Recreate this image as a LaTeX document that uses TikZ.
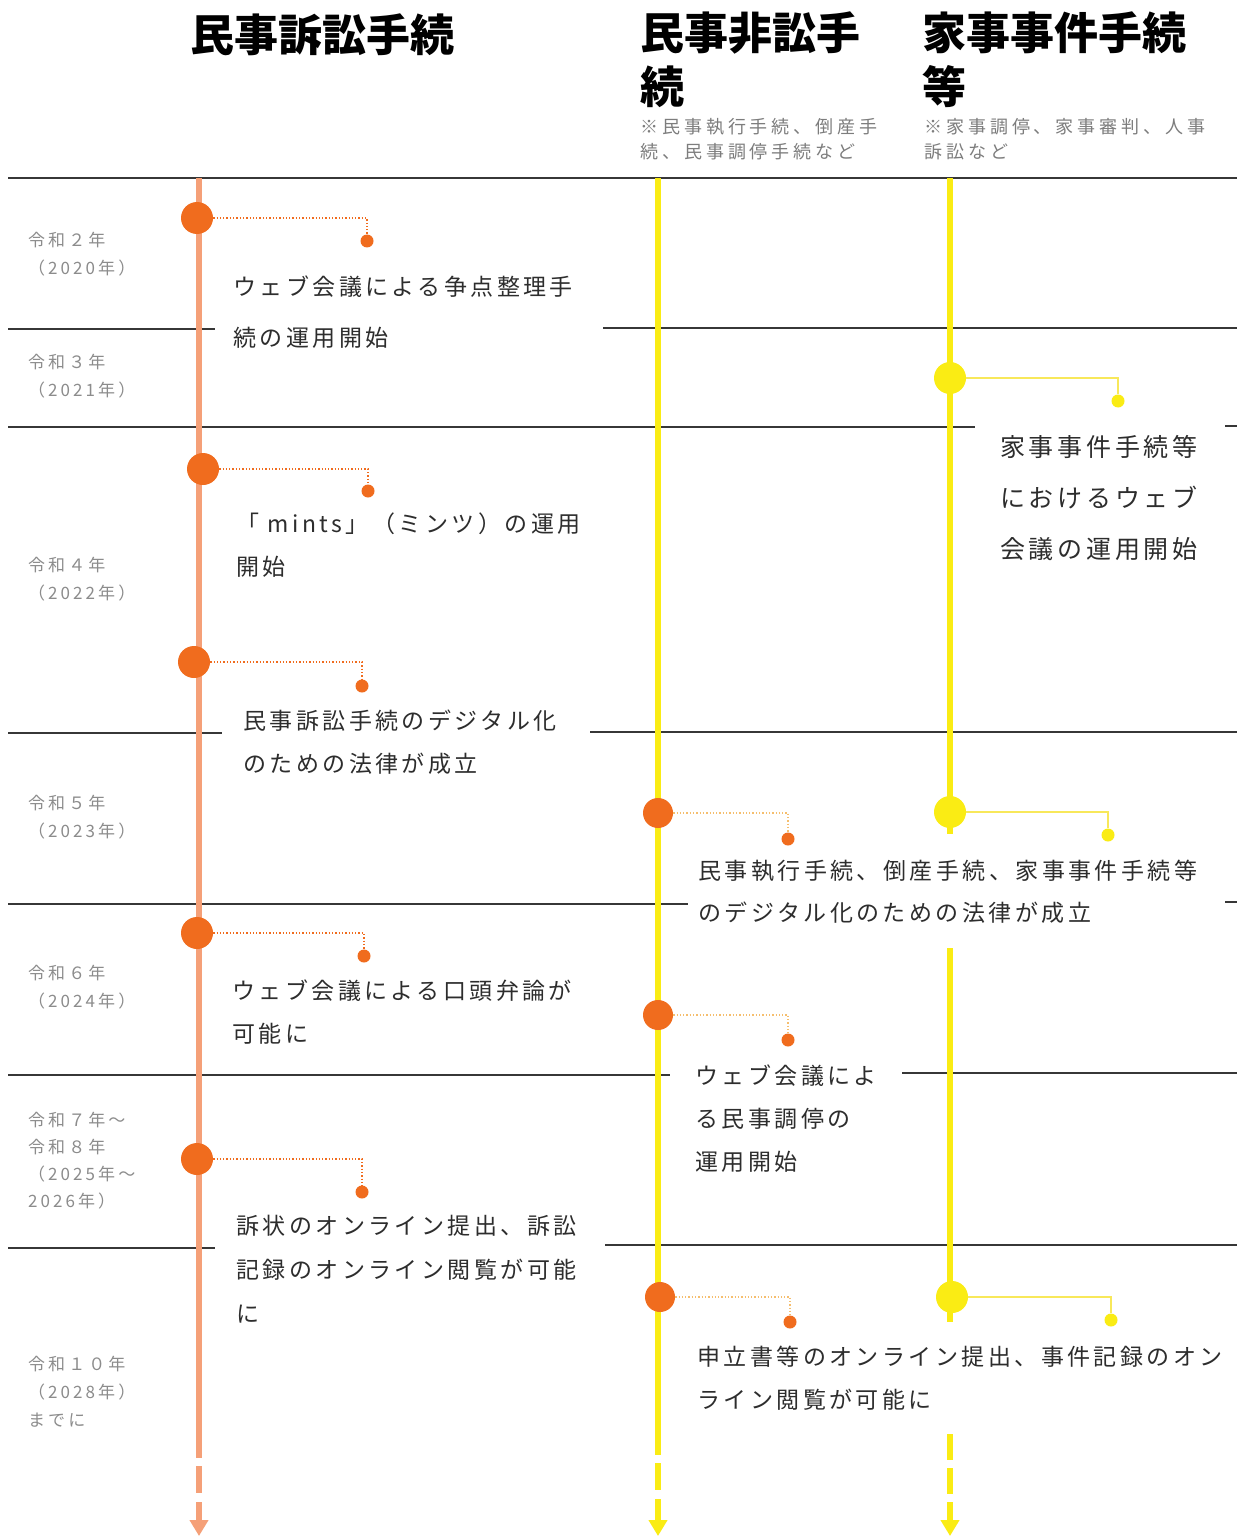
\documentclass[tikz,border=0pt]{standalone}
\usepackage{fontspec}
\usetikzlibrary{arrows.meta}
\newfontfamily\jp{Noto Sans CJK JP}
\newfontfamily\jpdesc{Noto Sans CJK JP}[LetterSpace=15]
\newfontfamily\jpyear{Noto Sans CJK JP}[LetterSpace=18]
\newfontfamily\jpnote{Noto Sans CJK JP}[LetterSpace=22]
\definecolor{orline}{RGB}{245,160,120}
\definecolor{ordot}{RGB}{240,108,30}
\definecolor{ylline}{RGB}{250,236,20}
\definecolor{ylconn}{RGB}{248,232,90}
\definecolor{midconn}{RGB}{245,190,110}
\definecolor{rulec}{RGB}{55,55,55}
\definecolor{txt}{RGB}{45,45,45}
\definecolor{yeartxt}{RGB}{140,140,140}
\definecolor{notetxt}{RGB}{125,125,125}
\tikzset{
  rulel/.style={draw=rulec, line width=1.5pt},
  oline/.style={draw=orline, line width=6pt},
  yline/.style={draw=ylline, line width=6pt},
  bigdot/.style={circle, inner sep=0, minimum size=32pt},
  smalldot/.style={circle, inner sep=0, minimum size=13pt},
  oconn/.style={draw=ordot, line width=1.3pt, dotted},
  mconn/.style={draw=midconn, line width=1.3pt, dotted},
  yconn/.style={draw=ylconn, line width=1.5pt},
  desc/.style={anchor=base west, inner sep=0, align=left, text=txt},
  yearlbl/.style={anchor=base west, inner sep=0, align=left, text=yeartxt, font={\fontsize{17}{28}\selectfont\jpyear}},
  head/.style={anchor=base west, inner sep=0, align=left, text=black, font={\fontsize{44}{54}\selectfont\jp\bfseries}},
  note/.style={anchor=base west, inner sep=0, align=left, text=notetxt, font={\fontsize{18}{25}\selectfont\jpnote}},
  tipd/.style={-{Triangle[width=18pt,length=16pt]}}
}
\begin{document}
\begin{tikzpicture}[x=1pt,y=-1pt]
\useasboundingbox (0,0) rectangle (1237,1538);
\fill[white] (0,0) rectangle (1237,1538);

% horizontal rules
\draw[rulel] (8,178) -- (1237,178);
\draw[rulel] (8,329) -- (215,329);
\draw[rulel] (603,328) -- (1237,328);
\draw[rulel] (8,427) -- (975,427);
\draw[rulel] (1225,426) -- (1237,426);
\draw[rulel] (8,733) -- (222,733);
\draw[rulel] (590,732) -- (1237,732);
\draw[rulel] (8,904) -- (688,904);
\draw[rulel] (1225,902) -- (1237,902);
\draw[rulel] (8,1075) -- (670,1075);
\draw[rulel] (902,1073) -- (1237,1073);
\draw[rulel] (8,1248) -- (215,1248);
\draw[rulel] (605,1245) -- (1237,1245);

% vertical timelines
\coordinate (otop) at (199,178);
\coordinate (obot) at (199,1458);
\coordinate (odash) at (199,1466);
\coordinate (oend) at (199,1536);
\coordinate (mtop) at (658,178);
\coordinate (mbot) at (658,1455);
\coordinate (mdash) at (658,1463);
\coordinate (mend) at (658,1536);
\coordinate (rtop) at (950,178);
\coordinate (rb1) at (950,834);
\coordinate (rt2) at (950,948);
\coordinate (rb2) at (950,1322);
\coordinate (rdash) at (950,1434);
\coordinate (rend) at (950,1536);

\draw[oline] (otop) -- (obot);
\draw[oline, tipd, dash pattern=on 27pt off 9pt] (odash) -- (oend);
\draw[yline] (mtop) -- (mbot);
\draw[yline, tipd, dash pattern=on 27pt off 9pt] (mdash) -- (mend);
\draw[yline] (rtop) -- (rb1);
\draw[yline] (rt2) -- (rb2);
\draw[yline, tipd, dash pattern=on 26pt off 8pt] (rdash) -- (rend);

% headers (base anchor = baseline of last line)
\node[head] (h1) at (190,52) {民事訴訟手続};
\node[head] (h2) at (640,104) {民事非訟手\\続};
\node[head] (h3) at (922,104) {家事事件手続\\等};
\node[note] (n2) at (640,159) {※民事執行手続、倒産手\\続、民事調停手続など};
\node[note] (n3) at (924,159) {※家事調停、家事審判、人事\\訴訟など};

% year labels
\node[yearlbl] (y1) at (28,274) {令和２年\\（2020年）};
\node[yearlbl] (y2) at (28,396) {令和３年\\（2021年）};
\node[yearlbl] (y3) at (28,599) {令和４年\\（2022年）};
\node[yearlbl] (y4) at (28,837) {令和５年\\（2023年）};
\node[yearlbl] (y5) at (28,1007) {令和６年\\（2024年）};
\node[yearlbl, font={\fontsize{17}{27}\selectfont\jpyear}] (y6) at (28,1207) {令和７年～\\令和８年\\（2025年～\\2026年）};
\node[yearlbl] (y7) at (28,1426) {令和１０年\\（2028年）\\までに};

% dots: left column
\node[bigdot, fill=ordot] (b1) at (197,218) {};
\node[smalldot, fill=ordot] (s1) at (367,241) {};
\node[bigdot, fill=ordot] (b2) at (203,469) {};
\node[smalldot, fill=ordot] (s2) at (368,491) {};
\node[bigdot, fill=ordot] (b3) at (194,662) {};
\node[smalldot, fill=ordot] (s3) at (362,686) {};
\node[bigdot, fill=ordot] (b4) at (197,933) {};
\node[smalldot, fill=ordot] (s4) at (364,956) {};
\node[bigdot, fill=ordot] (b5) at (197,1159) {};
\node[smalldot, fill=ordot] (s5) at (362,1192) {};
% middle column
\node[bigdot, fill=ordot, minimum size=30pt] (b6) at (658,813) {};
\node[smalldot, fill=ordot] (s6) at (788,839) {};
\node[bigdot, fill=ordot, minimum size=30pt] (b7) at (658,1015) {};
\node[smalldot, fill=ordot] (s7) at (788,1040) {};
\node[bigdot, fill=ordot, minimum size=30pt] (b8) at (660,1297) {};
\node[smalldot, fill=ordot] (s8) at (790,1322) {};
% right column
\node[bigdot, fill=ylline] (b9) at (950,378) {};
\node[smalldot, fill=ylline] (s9) at (1118,401) {};
\node[bigdot, fill=ylline] (b10) at (950,812) {};
\node[smalldot, fill=ylline] (s10) at (1108,835) {};
\node[bigdot, fill=ylline] (b11) at (952,1297) {};
\node[smalldot, fill=ylline] (s11) at (1111,1320) {};

% connectors
\draw[oconn] (b1.east) -| (s1.north);
\draw[oconn] (b2.east) -| (s2.north);
\draw[oconn] (b3.east) -| (s3.north);
\draw[oconn] (b4.east) -| (s4.north);
\draw[oconn] (b5.east) -| (s5.north);
\draw[mconn] (b6.east) -| (s6.north);
\draw[mconn] (b7.east) -| (s7.north);
\draw[mconn] (b8.east) -| (s8.north);
\draw[yconn] (b9.east) -| (s9.north);
\draw[yconn] (b10.east) -| (s10.north);
\draw[yconn] (b11.east) -| (s11.north);

% descriptions (base anchor = baseline of last line)
\node[desc, font={\fontsize{23}{51}\selectfont\jpdesc}] (t1) at (233,346) {ウェブ会議による争点整理手\\続の運用開始};
\node[desc, font={\fontsize{23}{43}\selectfont\jpdesc}] (t2) at (236,575) {「 mints」（ミンツ）の運用\\開始};
\node[desc, font={\fontsize{23}{43}\selectfont\jpdesc}] (t3) at (243,772) {民事訴訟手続のデジタル化\\のための法律が成立};
\node[desc, font={\fontsize{23}{43}\selectfont\jpdesc}] (t4) at (232,1042) {ウェブ会議による口頭弁論が\\可能に};
\node[desc, font={\fontsize{23}{44}\selectfont\jpdesc}] (t5) at (236,1322) {訴状のオンライン提出、訴訟\\記録のオンライン閲覧が可能\\に};
\node[desc, font={\fontsize{23}{42}\selectfont\jpdesc}] (t6) at (698,921) {民事執行手続、倒産手続、家事事件手続等\\のデジタル化のための法律が成立};
\node[desc, font={\fontsize{23}{43}\selectfont\jpdesc}] (t7) at (695,1170) {ウェブ会議によ\\る民事調停の\\運用開始};
\node[desc, font={\fontsize{23}{43}\selectfont\jpdesc}] (t8) at (697,1408) {申立書等のオンライン提出、事件記録のオン\\ライン閲覧が可能に};
\node[desc, font={\fontsize{25}{51}\selectfont\jpdesc}] (t9) at (1000,558) {家事事件手続等\\におけるウェブ\\会議の運用開始};
\end{tikzpicture}
\end{document}
